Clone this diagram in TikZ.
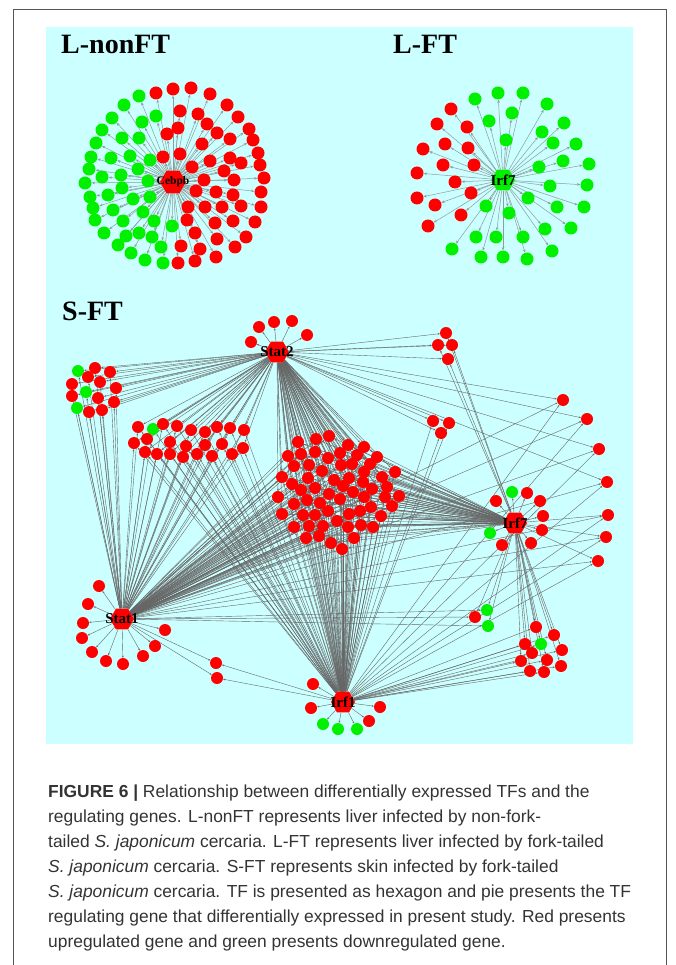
\documentclass[tikz,border=0pt]{standalone}
\usepackage{fontspec}
\setmainfont{Liberation Serif}
\newfontfamily\capfont{Liberation Sans}
\usetikzlibrary{shapes.geometric,arrows.meta}

\definecolor{panelcyan}{HTML}{CCFFFF}
\definecolor{upred}{HTML}{FF0000}
\definecolor{downgreen}{HTML}{00F000}
\definecolor{llinkgray}{HTML}{8A9E9E}
\definecolor{slinkgray}{HTML}{666666}
\definecolor{framegray}{HTML}{555555}
\definecolor{captext}{HTML}{333333}

\pgfdeclarelayer{panel}
\pgfdeclarelayer{links}
\pgfsetlayers{panel,links,main}

\tikzset{
  gene/.style={circle, inner sep=0pt, minimum size=13pt},
  upreg/.style={gene, fill=upred},
  downreg/.style={gene, fill=downgreen},
  sgene/.style={minimum size=12pt},
  tf/.style={regular polygon, regular polygon sides=6, inner sep=0pt, minimum size=24pt},
  tfname/.style={font=\bfseries\fontsize{15}{15}\selectfont, text=black, inner sep=0pt},
  llink/.style={draw=llinkgray, line width=0.5pt, -{Stealth[length=3.2pt,width=2.6pt]}},
  slink/.style={draw=slinkgray, line width=0.4pt, -{Stealth[length=2.2pt,width=1.8pt]}},
  panelname/.style={font=\bfseries\fontsize{28}{28}\selectfont, anchor=base west, inner sep=0pt},
}

\begin{document}
\begin{tikzpicture}[x=1pt, y=-1pt]
  \useasboundingbox (0,0) rectangle (675,965);
  \draw[framegray, line width=0.8pt] (13,965) -- (13,9) -- (666,9) -- (666,965);

  \node[panelname] (nonfttitle) at (61,54) {L-nonFT};
  \node[panelname] (fttitle) at (393,54) {L-FT};
  \node[panelname] (sfttitle) at (62,320) {S-FT};

  % L-nonFT
  \node[tf, minimum size=26pt, fill=upred,
        label={[tfname, font=\bfseries\fontsize{11.5}{11.5}\selectfont]center:Cebpb}] (cebpb) at (173,182) {};
  \foreach \x/\y [count=\i] in {139/96,124/105,112/118,102/130,96/143,91/157,89/169,85/183,
      90/197,93/208,95/220,104/233,118/245,131/253,145/260,163/263,172/226,154/221,152/237,
      139/233,126/236,123/221,113/210,108/195,102/177,111/158,122/138,142/122,156/116,139/138,
      130/156,150/160,138/169,121/175,122/188,133/199,150/197,148/181,143/212,161/247}{
    \node[downreg] (nfd\i) at (\x,\y) {}; \xdef\nnfd{\i}}
  \foreach \x/\y [count=\i] in {156/93,173/89,191/88,210/94,227/105,238/117,249/129,253/140,
      258/153,260/165,264/178,261/192,261/207,255/222,246/237,235/247,216/257,195/261,178/263,
      180/111,198/114,207/124,217/133,230/139,178/128,167/134,202/144,180/154,163/157,210/161,
      230/158,241/163,192/167,224/171,204/180,234/180,196/191,216/192,233/195,188/207,205/207,
      222/207,241/206,187/220,215/223,233/221,195/233,217/239,181/246,200/249}{
    \node[upreg] (nfu\i) at (\x,\y) {}; \xdef\nnfu{\i}}

  % L-FT
  \node[tf, fill=downgreen,
        label={[tfname]center:Irf7}] (irf7l) at (503,180) {};
  \foreach \x/\y [count=\i] in {451/109,437/124,467/127,423/149,445/144,468/148,443/165,474/165,
      417/173,455/182,471/193,417/198,435/205,461/215,428/226}{
    \node[upreg] (ftu\i) at (\x,\y) {}; \xdef\nftu{\i}}
  \foreach \x/\y [count=\i] in {475/99,498/93,523/93,547/104,564/123,576/144,589/164,587/185,
      584/207,571/228,552/251,527/259,503/257,481/257,452/249,476/237,496/237,523/237,545/229,
      557/207,528/198,509/213,486/206,550/186,539/167,563/161,553/143,542/132,506/140,489/121,
      512/113}{
    \node[downreg] (ftd\i) at (\x,\y) {}; \xdef\nftd{\i}}

  % S-FT hubs
  \node[tf, fill=upred, label={[tfname]center:Stat2}] (stat2) at (277,352) {};
  \node[tf, fill=upred, label={[tfname]center:Stat1}] (stat1) at (122,619) {};
  \node[tf, fill=upred, label={[tfname]center:Irf7}] (irf7s) at (515,523) {};
  \node[tf, fill=upred, label={[tfname]center:Irf1}] (irf1) at (343,702) {};

  % own leaves of each hub
  \foreach \x/\y [count=\i] in {251/342,259/327,274/322,292/321,307/335}{
    \node[upreg, sgene] (sii\i) at (\x,\y) {}; \xdef\nsii{\i}}
  \foreach \x/\y [count=\i] in {99/586,88/604,83/623,82/638,92/652,106/661,123/664,143/656,
      155/646,165/630}{
    \node[upreg, sgene] (si\i) at (\x,\y) {}; \xdef\nsi{\i}}
  \foreach \x/\y/\s [count=\i] in {313/684/upreg,311/708/upreg,369/721/upreg,380/707/upreg,
      323/724/downreg,338/729/downreg,357/729/downreg}{
    \node[\s, sgene] (ri\i) at (\x,\y) {}; \xdef\nri{\i}}
  \foreach \x/\y/\s [count=\i] in {527/493/upreg,540/501/upreg,496/501/upreg,543/516/upreg,
      542/530/upreg,531/543/upreg,502/545/upreg,512/492/downreg,490/533/downreg}{
    \node[\s, sgene] (rvii\i) at (\x,\y) {}; \xdef\nrvii{\i}}

  % shared targets
  \foreach \x/\y/\s [count=\i] in {78/371/downreg,95/368/upreg,110/372/upreg,88/377/upreg,
      100/382/upreg,72/384/upreg,116/388/upreg,86/392/downreg,72/396/upreg,98/398/upreg,
      114/402/upreg,77/408/downreg,89/412/upreg,102/410/upreg}{
    \node[\s, sgene] (ga\i) at (\x,\y) {}; \xdef\nga{\i}}
  \foreach \x/\y/\s [count=\i] in {138/427/upreg,153/429/downreg,163/424/upreg,177/426/upreg,
      191/430/upreg,205/432/upreg,217/427/upreg,230/428/upreg,244/430/upreg,134/443/upreg,
      147/439/upreg,170/442/upreg,186/446/upreg,205/445/upreg,222/444/upreg,243/448/upreg,
      145/452/upreg,157/454/upreg,170/454/upreg,183/457/upreg,197/454/upreg,212/456/upreg,
      232/454/upreg}{
    \node[\s, sgene] (gb\i) at (\x,\y) {}; \xdef\ngb{\i}}
  \foreach \x/\y [count=\i] in {298/442,316/439,329/436,348/445,364/447,377/457,395/472,
      288/456,301/454,315/452,328/458,340/453,357/455,370/464,294/466,309/465,322/471,341/465,
      352/464,364/472,382/477,387/487,399/496,282/477,292/484,308/478,334/480,349/478,363/482,
      372/489,301/490,315/488,329/494,343/486,353/492,364/497,385/497,392/506,278/497,294/504,
      307/500,320/503,340/499,371/507,282/514,303/515,315/515,328/511,349/514,360/511,381/516,
      294/527,309/526,323/526,337/521,348/527,361/525,373/527,306/538,319/536,331/543,342/549,
      354/538}{
    \node[upreg, sgene] (gc\i) at (\x,\y) {}; \xdef\ngc{\i}}
  \foreach \x/\y [count=\i] in {446/333,438/345,452/345,448/359}{
    \node[upreg, sgene] (gd\i) at (\x,\y) {}; \xdef\ngd{\i}}
  \foreach \x/\y [count=\i] in {433/421,449/423,441/433}{
    \node[upreg, sgene] (ge\i) at (\x,\y) {}; \xdef\nge{\i}}
  \foreach \x/\y [count=\i] in {563/400,587/419,599/449,607/482}{
    \node[upreg, sgene] (gf\i) at (\x,\y) {}; \xdef\ngf{\i}}
  \foreach \x/\y [count=\i] in {608/515,606/537,598/561}{
    \node[upreg, sgene] (gk\i) at (\x,\y) {}; \xdef\ngk{\i}}
  \foreach \x/\y/\s [count=\i] in {487/610/downreg,475/617/upreg,488/626/downreg}{
    \node[\s, sgene] (gg\i) at (\x,\y) {}; \xdef\ngg{\i}}
  \foreach \x/\y/\s [count=\i] in {536/627/upreg,554/635/upreg,525/644/upreg,541/644/downreg,
      562/650/upreg,532/653/upreg,521/661/upreg,547/660/upreg,561/666/upreg,530/671/upreg,
      544/672/upreg}{
    \node[\s, sgene] (gh\i) at (\x,\y) {}; \xdef\ngh{\i}}
  \foreach \x/\y [count=\i] in {216/663,217/678}{
    \node[upreg, sgene] (gj\i) at (\x,\y) {}; \xdef\ngj{\i}}

  \begin{pgfonlayer}{panel}
    \fill[panelcyan] (46,27) rectangle (633,744);
  \end{pgfonlayer}

  \begin{pgfonlayer}{links}
    \foreach \i in {1,...,\nnfd} \draw[llink] (cebpb) -- (nfd\i);
    \foreach \i in {1,...,\nnfu} \draw[llink] (cebpb) -- (nfu\i);
    \foreach \i in {1,...,\nftu} \draw[llink] (irf7l) -- (ftu\i);
    \foreach \i in {1,...,\nftd} \draw[llink] (irf7l) -- (ftd\i);
    \foreach \i in {1,...,\nsii} \draw[slink] (stat2) -- (sii\i);
    \foreach \i in {1,...,\nsi} \draw[slink] (stat1) -- (si\i);
    \foreach \i in {1,...,\nri} \draw[slink] (irf1) -- (ri\i);
    \foreach \i in {1,...,\nrvii} \draw[slink] (irf7s) -- (rvii\i);
    \foreach \h in {stat2,stat1} \foreach \i in {1,...,\nga} \draw[slink] (\h) -- (ga\i);
    \foreach \h in {stat2,stat1,irf1} \foreach \i in {1,...,\ngb} \draw[slink] (\h) -- (gb\i);
    \foreach \h in {stat2,stat1,irf1,irf7s} \foreach \i in {1,...,\ngc} \draw[slink] (\h) -- (gc\i);
    \foreach \h in {stat2,irf7s} \foreach \i in {1,...,\ngd} \draw[slink] (\h) -- (gd\i);
    \foreach \h in {stat2,irf1} \foreach \i in {1,...,\nge} \draw[slink] (\h) -- (ge\i);
    \foreach \h in {stat2,stat1,irf1} \foreach \i in {1,...,\ngf} \draw[slink] (\h) -- (gf\i);
    \foreach \h in {stat1,irf1,irf7s} \foreach \i in {1,...,\ngk} \draw[slink] (\h) -- (gk\i);
    \foreach \h in {stat1,irf7s} \foreach \i in {1,...,\ngg} \draw[slink] (\h) -- (gg\i);
    \foreach \h in {irf1,irf7s} \foreach \i in {1,...,\ngh} \draw[slink] (\h) -- (gh\i);
    \foreach \h in {stat1,irf1} \foreach \i in {1,...,\ngj} \draw[slink] (\h) -- (gj\i);
  \end{pgfonlayer}

  % caption
  \node[anchor=north west, inner sep=0pt, align=left, text=captext,
        font=\capfont\fontsize{17.4}{25}\selectfont] (caption) at (48,785)
    {\textbf{FIGURE 6 |} Relationship between differentially expressed TFs and the\\
     regulating genes. L-nonFT represents liver infected by non-fork-\\
     tailed \textit{S. japonicum} cercaria. L-FT represents liver infected by fork-tailed\\
     \textit{S. japonicum} cercaria. S-FT represents skin infected by fork-tailed\\
     \textit{S. japonicum} cercaria. TF is presented as hexagon and pie presents the TF\\
     regulating gene that differentially expressed in present study. Red presents\\
     upregulated gene and green presents downregulated gene.};
\end{tikzpicture}
\end{document}
